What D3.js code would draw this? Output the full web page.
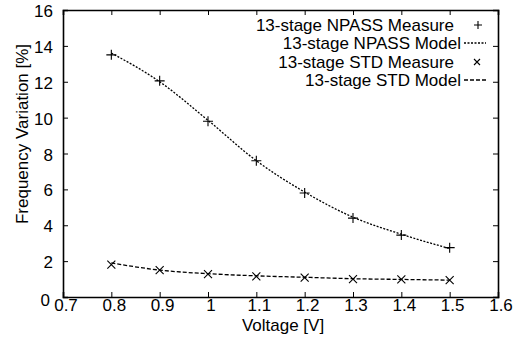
<!DOCTYPE html>
<html>
<head>
<meta charset="utf-8">
<script src="https://cdn.jsdelivr.net/npm/d3@7"></script>
<style>
  body { margin: 0; background: #fff; }
  svg text { font-family: "Liberation Sans", Arial, sans-serif; fill: #000; }
</style>
</head>
<body>
<div id="chart"></div>
<script>
var voltage = [0.8, 0.9, 1.0, 1.1, 1.2, 1.3, 1.4, 1.5]
var npassMeasure = [13.5, 12.05, 9.8, 7.6, 5.8, 4.4, 3.45, 2.75]
var npassModel = [13.6, 12.0, 9.85, 7.6, 5.85, 4.45, 3.5, 2.7]
var stdMeasure = [1.8, 1.5, 1.28, 1.15, 1.08, 1.0, 0.98, 0.94]
var stdModel = [1.9, 1.5, 1.3, 1.18, 1.1, 1.02, 0.98, 0.94]
var xTicks = [0.7, 0.8, 0.9, 1, 1.1, 1.2, 1.3, 1.4, 1.5, 1.6]
var yTicks = [0, 2, 4, 6, 8, 10, 12, 14, 16]
var legendLabels = ["13-stage NPASS Measure", "13-stage NPASS Model", "13-stage STD Measure", "13-stage STD Model"]

var w = 518
var h = 341
var pl = 63, pr = 498, pt = 10, pb = 297
var fs = 17

var svg = d3.select("#chart").append("svg")
    .attr("width", w)
    .attr("height", h)

var x = d3.scaleLinear().domain([0.7, 1.6]).range([pl, pr])
var y = d3.scaleLinear().domain([0, 16]).range([pb, pt])

// axes: ticks inward on all four sides
var tick = 5
var xb = d3.axisBottom(x).tickValues(xTicks).tickSize(-tick).tickFormat("")
var xt = d3.axisTop(x).tickValues(xTicks).tickSize(-tick).tickFormat("")
var yl = d3.axisLeft(y).tickValues(yTicks).tickSize(-tick).tickFormat("")
var yr = d3.axisRight(y).tickValues(yTicks).tickSize(-tick).tickFormat("")

svg.append("g").attr("transform", "translate(0," + pb + ")").call(xb)
svg.append("g").attr("transform", "translate(0," + pt + ")").call(xt)
svg.append("g").attr("transform", "translate(" + pl + ",0)").call(yl)
svg.append("g").attr("transform", "translate(" + pr + ",0)").call(yr)
svg.selectAll(".domain").attr("stroke", "#000").attr("stroke-width", 1.6)
svg.selectAll(".tick line").attr("stroke", "#000")

// tick labels
svg.selectAll(".xlab")
    .data(xTicks)
    .join("text")
    .attr("x", function(d){ return x(d) + 3 })
    .attr("y", pb + 14)
    .attr("text-anchor", "middle")
    .attr("font-size", fs)
    .text(function(d){ return d })

svg.selectAll(".ylab")
    .data(yTicks)
    .join("text")
    .attr("x", function(d){ return d == 0 ? pl - 13 : pl - 10 })
    .attr("y", function(d){ return y(d) + (d == 0 ? 9 : 7) })
    .attr("text-anchor", "end")
    .attr("font-size", fs)
    .text(function(d){ return d })

svg.append("text")
    .attr("x", 283)
    .attr("y", 331)
    .attr("text-anchor", "middle")
    .attr("font-size", fs)
    .text("Voltage [V]")

svg.append("text")
    .attr("transform", "translate(28,134) rotate(-90)")
    .attr("text-anchor", "middle")
    .attr("font-size", fs)
    .text("Frequency Variation [%]")

// lines
var line = d3.line()
    .x(function(d, i){ return x(voltage[i]) })
    .y(function(d){ return y(d) })
    .curve(d3.curveMonotoneX)

svg.append("path").datum(npassModel)
    .attr("d", line)
    .attr("fill", "none")
    .attr("stroke", "#000")
    .attr("stroke-width", 1.3)
    .attr("stroke-dasharray", "2,1.5")

svg.append("path").datum(stdModel)
    .attr("d", line)
    .attr("fill", "none")
    .attr("stroke", "#000")
    .attr("stroke-width", 1.3)
    .attr("stroke-dasharray", "4,2")

function plus(g, cx, cy, s){
    g.append("path")
    .attr("d", "M" + (cx - s) + "," + cy + "H" + (cx + s) + "M" + cx + "," + (cy - s) + "V" + (cy + s))
    .attr("stroke", "#000").attr("stroke-width", 1.1)
}
function cross(g, cx, cy, s){
    g.append("path")
    .attr("d", "M" + (cx - s) + "," + (cy - s) + "L" + (cx + s) + "," + (cy + s) + "M" + (cx - s) + "," + (cy + s) + "L" + (cx + s) + "," + (cy - s))
    .attr("stroke", "#000").attr("stroke-width", 1.1)
}

var marks = svg.append("g")
for (var i in voltage){
    plus(marks, x(voltage[i]), y(npassMeasure[i]), 5)
    cross(marks, x(voltage[i]), y(stdMeasure[i]), 4)
}

// legend
var legY = [25, 43, 62, 80]
for (var k in legendLabels){
    svg.append("text")
    .attr("x", k % 2 == 0 ? 454 : 461)
    .attr("y", legY[k] + 6)
    .attr("text-anchor", "end")
    .attr("font-size", fs)
    .text(legendLabels[k])
}
plus(svg, 478, legY[0], 4)
svg.append("line").attr("x1", 464).attr("x2", 486).attr("y1", legY[1]).attr("y2", legY[1])
    .attr("stroke", "#000").attr("stroke-width", 1.3).attr("stroke-dasharray", "2,1.5")
cross(svg, 477, legY[2], 3)
svg.append("line").attr("x1", 464).attr("x2", 486).attr("y1", legY[3]).attr("y2", legY[3])
    .attr("stroke", "#000").attr("stroke-width", 1.3).attr("stroke-dasharray", "4,2")
</script>
</body>
</html>
